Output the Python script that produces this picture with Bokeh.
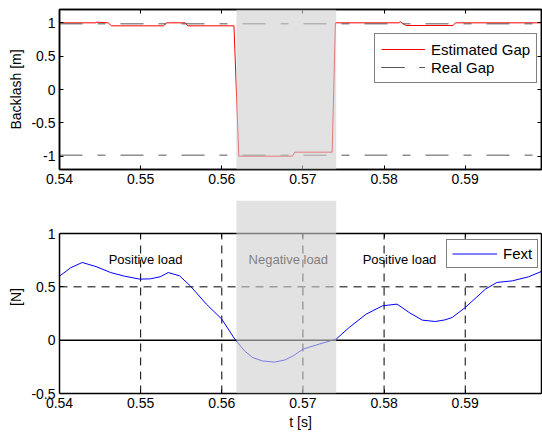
from bokeh.plotting import figure
from bokeh.models import (BoxAnnotation, Span, Legend, LegendItem, LinearAxis,
                          FixedTicker, CustomJSTickFormatter, ColumnDataSource, Range1d)
from bokeh.layouts import column
from bokeh.core.properties import value
from bokeh.embed import file_html
from bokeh.resources import INLINE

# ---------------- data ----------------
x_ticks = [0.54, 0.55, 0.56, 0.57, 0.58, 0.59]
top_y_ticks = [-1, -0.5, 0, 0.5, 1]
bot_y_ticks = [-0.5, 0, 0.5, 1]

est_t = [0.5400, 0.5445, 0.5446, 0.5460, 0.5464, 0.5528, 0.5532, 0.5555, 0.5558,
         0.5615, 0.5621, 0.5687, 0.5690, 0.5736, 0.5740, 0.5818, 0.5820, 0.5822,
         0.5827, 0.5885, 0.5888, 0.5999]
est_gap = [1.0, 1.0, 1.01, 1.0, 0.955, 0.955, 1.0, 1.0, 0.955,
           0.955, -1.0, -1.0, -0.94, -0.94, 1.0, 1.0, 1.015, 1.0,
           0.96, 0.96, 1.0, 1.0]

real_t = [0.54, 0.60]
real_gap_hi = [0.985, 0.985]
real_gap_lo = [-0.985, -0.985]

fext_t = [0.5400, 0.5414, 0.5428, 0.5445, 0.5463, 0.5480, 0.5499, 0.5512, 0.5524,
          0.5534, 0.5548, 0.5561, 0.5581, 0.5600, 0.5616, 0.5628, 0.5638, 0.5650,
          0.5665, 0.5678, 0.5688, 0.5700, 0.5720, 0.5741, 0.5757, 0.5778, 0.5798,
          0.5816, 0.5831, 0.5847, 0.5863, 0.5875, 0.5884, 0.5900, 0.5925, 0.5939,
          0.5958, 0.5978, 0.5999]
fext = [0.60, 0.68, 0.728, 0.69, 0.634, 0.60, 0.572, 0.575, 0.594,
        0.634, 0.603, 0.51, 0.338, 0.197, 0.01, -0.10, -0.163, -0.195,
        -0.206, -0.185, -0.147, -0.084, -0.037, 0.01, 0.119, 0.244, 0.322,
        0.338, 0.259, 0.188, 0.175, 0.19, 0.213, 0.306, 0.479, 0.541,
        0.556, 0.594, 0.66]

shade_start, shade_end = 0.5618, 0.5741
load_text = ["Positive load", "Negative load", "Positive load"]
load_t = [0.5506, 0.5682, 0.5819]
load_y = [0.76, 0.76, 0.76]

# ---------------- layout constants ----------------
FONT = "Liberation Sans"
X_LIM = (0.54, 0.5994)
TOP_LIM = (-1.2, 1.2)
BOT_LIM = (-0.5, 1.0)
W = 542
LEFT = 59
H1 = 200
TOP_BORDER = 9
TOP_PLOT_PX = 160
H2 = 234
GAP2 = 33            # blank band above the bottom axes box
BOT_BORDER = 41
BOT_PLOT_PX = H2 - GAP2 - BOT_BORDER

SHADE = dict(fill_color="#cfcfcf", fill_alpha=0.6, line_color=None, level="overlay")

fmt = CustomJSTickFormatter(code="return String(Number(tick.toFixed(4)));")
blank = CustomJSTickFormatter(code="return '';")


def style_axis(ax, ticks, labels=True):
    ax.ticker = FixedTicker(ticks=ticks)
    ax.formatter = fmt if labels else blank
    ax.major_label_text_font = FONT
    ax.major_label_text_font_size = "14px"
    ax.major_label_text_color = "black"
    ax.axis_label_text_font = FONT
    ax.axis_label_text_font_size = "14px"
    ax.axis_label_text_font_style = "normal"
    ax.axis_label_text_color = "black"
    ax.axis_line_color = "black"
    ax.axis_line_width = 1.5
    ax.major_tick_in = 4
    ax.major_tick_out = 0
    ax.minor_tick_in = 0
    ax.minor_tick_out = 0
    ax.major_tick_line_color = "black"
    ax.major_label_standoff = 4 if labels else 0
    ax.axis_label_standoff = 4


# ---------------- top plot ----------------
p1 = figure(width=W, height=H1, output_backend="svg", toolbar_location=None,
            x_range=Range1d(*X_LIM), y_range=Range1d(*TOP_LIM),
            min_border_left=LEFT, min_border_right=1, min_border_top=TOP_BORDER,
            min_border_bottom=H1 - TOP_BORDER - TOP_PLOT_PX)
p1.outline_line_color = "black"
p1.outline_line_width = 1.5
p1.xgrid.visible = False
p1.ygrid.visible = False
bx1, ly1 = p1.below[0], p1.left[0]
style_axis(bx1, x_ticks)
style_axis(ly1, top_y_ticks)
ly1.axis_label = "Backlash [m]"
ax_t = LinearAxis(); style_axis(ax_t, x_ticks, labels=False)
p1.add_layout(ax_t, "above")
ax_r = LinearAxis(); style_axis(ax_r, top_y_ticks, labels=False)
p1.add_layout(ax_r, "right")

r_est = p1.line(est_t, est_gap, line_color="#ff0000", line_width=1)
r_hi = p1.line(real_t, real_gap_hi, line_color="#555555", line_width=1, line_dash="23 15 8 15")
r_lo = p1.line(real_t, real_gap_lo, line_color="#555555", line_width=1, line_dash="23 15 8 15")

leg1 = Legend(items=[LegendItem(label="Estimated Gap", renderers=[r_est]),
                     LegendItem(label="Real Gap", renderers=[r_hi, r_lo])],
              location=(315, 86), label_text_font=FONT, label_text_font_size="15px",
              label_text_color="black", glyph_width=44, glyph_height=18, label_height=18,
              label_standoff=6, padding=6, spacing=0, margin=0,
              border_line_color="black", border_line_width=1.2,
              background_fill_color="white", background_fill_alpha=1)
p1.add_layout(leg1, "center")
p1.add_layout(BoxAnnotation(left=shade_start, right=shade_end, **SHADE))

# ---------------- bottom plot ----------------
ypp2 = (BOT_LIM[1] - BOT_LIM[0]) / BOT_PLOT_PX
p2 = figure(width=W, height=H2, output_backend="svg", toolbar_location=None,
            x_range=Range1d(*X_LIM), y_range=Range1d(BOT_LIM[0], BOT_LIM[1] + GAP2 * ypp2),
            min_border_left=LEFT, min_border_right=1, min_border_top=0,
            min_border_bottom=BOT_BORDER)
p2.outline_line_color = None
p2.xgrid.visible = False
p2.ygrid.visible = False
bx2, ly2 = p2.below[0], p2.left[0]
style_axis(bx2, x_ticks)
bx2.axis_label = "t [s]"
bx2.axis_label_standoff = 3
style_axis(ly2, bot_y_ticks)
ly2.bounds = BOT_LIM
ly2.axis_label = "[N]"
ax_t2 = LinearAxis(); style_axis(ax_t2, x_ticks, labels=False); ax_t2.fixed_location = BOT_LIM[1]
p2.add_layout(ax_t2, "above")
ax_r2 = LinearAxis(); style_axis(ax_r2, bot_y_ticks, labels=False); ax_r2.bounds = BOT_LIM
p2.add_layout(ax_r2, "right")

gx = x_ticks[1:]
p2.segment(x0=gx, y0=[BOT_LIM[0]] * len(gx), x1=gx, y1=[BOT_LIM[1]] * len(gx),
           line_color="black", line_width=1, line_dash="8 6")
p2.add_layout(Span(location=0.5, dimension="width", line_color="black", line_width=1,
                   line_dash="8 6"))
p2.add_layout(Span(location=0, dimension="width", line_color="black", line_width=1.5))

r_f = p2.line(fext_t, fext, line_color="#0000ff", line_width=1)
src = ColumnDataSource(dict(t=load_t, y=load_y, s=load_text))
p2.text(x="t", y="y", text="s", source=src, text_font=value(FONT), text_font_size="13px",
        text_align="center", text_baseline="middle", text_color="black")

leg2 = Legend(items=[LegendItem(label="Fext", renderers=[r_f])],
              location=(387, 125), label_text_font=FONT, label_text_font_size="15px",
              label_text_color="black", glyph_width=45, glyph_height=17, label_height=17,
              label_standoff=6, padding=5, spacing=0, margin=0,
              border_line_color="black", border_line_width=1.2,
              background_fill_color="white", background_fill_alpha=1)
p2.add_layout(leg2, "center")
p2.add_layout(BoxAnnotation(left=shade_start, right=shade_end, bottom=BOT_LIM[0], **SHADE))

layout = column(p1, p2, spacing=0)
open("out.html", "w").write(file_html(layout, INLINE))
